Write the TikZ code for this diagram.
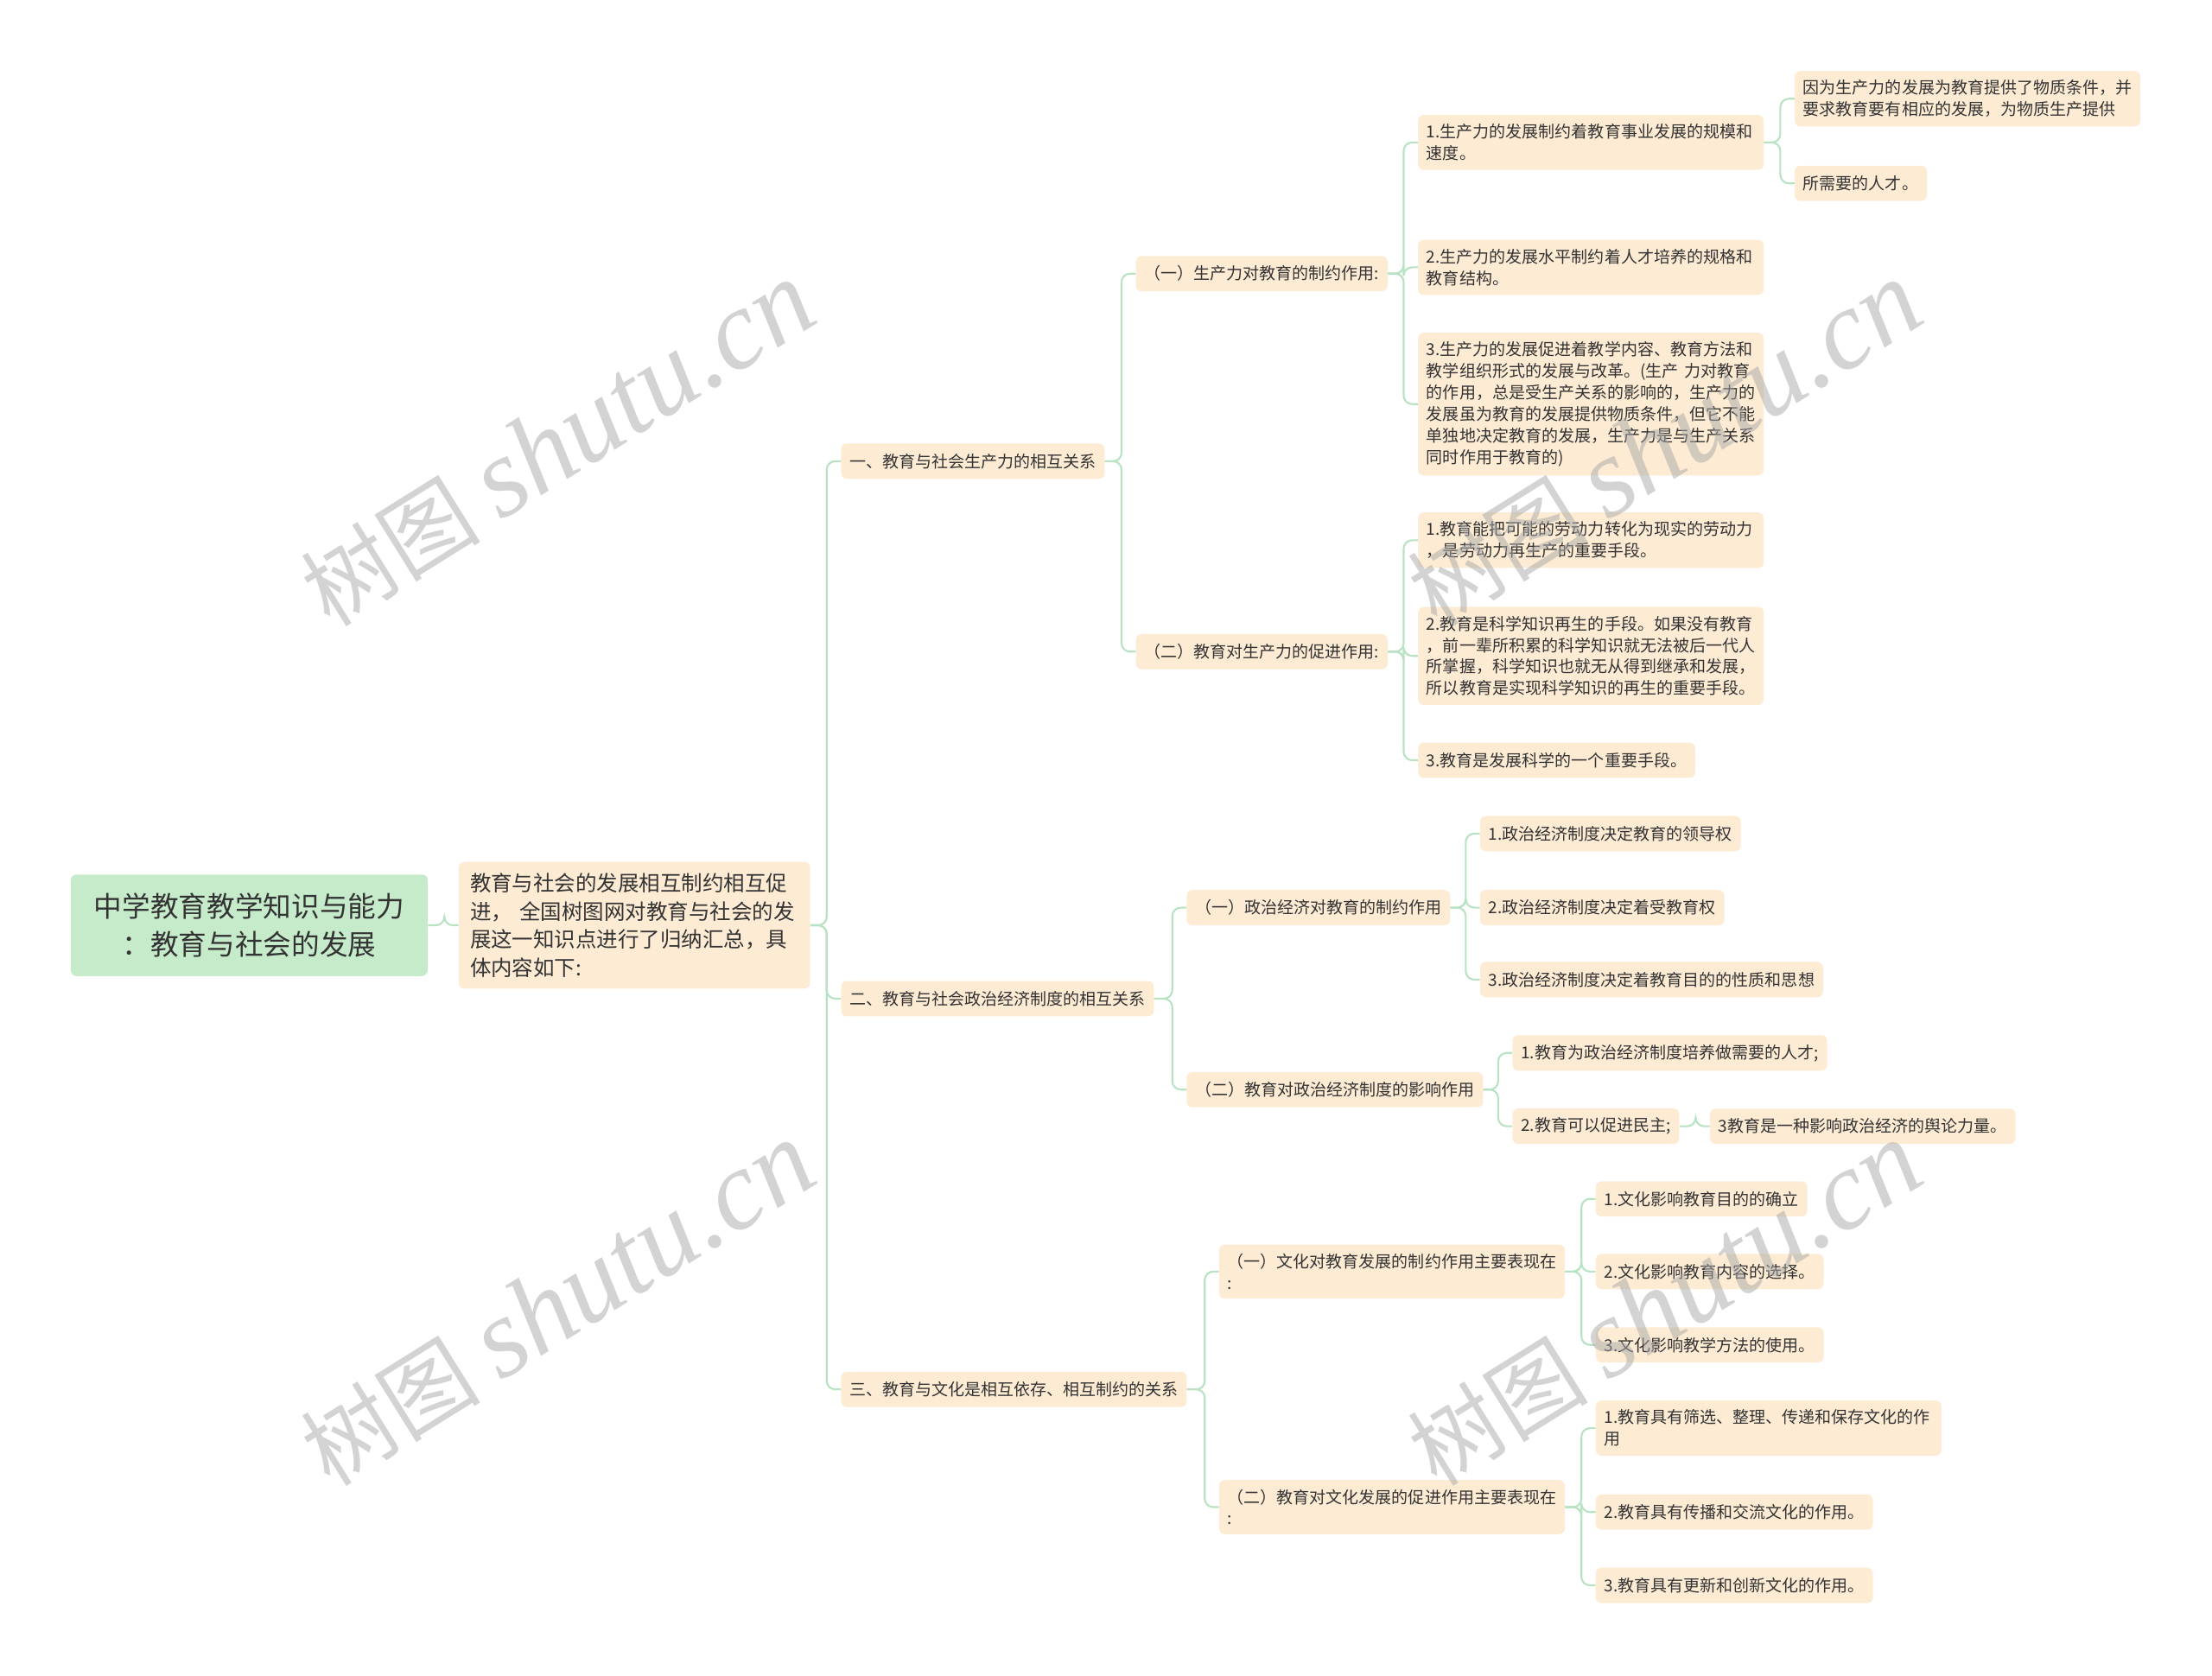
\documentclass[tikz,border=0pt]{standalone}
\usepackage{fontspec}
\setmainfont{Noto Sans CJK SC}
\newfontfamily\wmlatin{Liberation Serif}
\definecolor{nodebg}{HTML}{FDEBD4}
\definecolor{rootbg}{HTML}{C6EBCB}
\definecolor{linkc}{HTML}{B8E3C3}
\definecolor{txt}{HTML}{333333}
\definecolor{wmgray}{HTML}{A8A8A8}

\begin{document}
\begin{tikzpicture}[x=1pt, y=-1pt,
    leaf/.style = {fill=nodebg, rounded corners=4pt, anchor=west, align=left, text=txt,
                   inner xsep=6pt, inner ysep=6.5pt, minimum height=25pt,
                   font=\fontsize{11.65}{15.2}\selectfont},
    wide/.style = {leaf, text width=233pt},
    intro/.style = {leaf, text width=233pt, inner xsep=8pt, inner ysep=8pt,
                    font=\fontsize{15}{20}\selectfont},
    root/.style = {fill=rootbg, rounded corners=4pt, anchor=west, align=center, text=txt,
                   minimum width=253pt, minimum height=72pt,
                   font=\fontsize{20}{27}\selectfont},
    link/.style = {draw=linkc, line width=1.3pt, rounded corners=6pt},
    wm/.style = {text=wmgray, opacity=0.5, rotate=32, font=\fontsize{64}{70}\selectfont}]
    \useasboundingbox (0,0) rectangle (1568,1188);

    % root and intro
    \node[root] at (50, 656) (root) {中学教育教学知识与能力\\：教育与社会的发展};
    \node[intro] at (325, 656) (intro) {教育与社会的发展相互制约相互促\\进， 全国树图网对教育与社会的发\\展这一知识点进行了归纳汇总，具\\体内容如下:};

    % first level
    \node[leaf] at (596, 327) (l1a) {一、教育与社会生产力的相互关系};
    \node[leaf] at (596, 708) (l1b) {二、教育与社会政治经济制度的相互关系};
    \node[leaf] at (596, 985) (l1c) {三、教育与文化是相互依存、相互制约的关系};

    % second level
    \node[leaf] at (805, 194) (a1) {（一）生产力对教育的制约作用:};
    \node[leaf] at (805, 462) (a2) {（二）教育对生产力的促进作用:};
    \node[leaf] at (841, 643.5) (b1) {（一）政治经济对教育的制约作用};
    \node[leaf] at (841, 772.5) (b2) {（二）教育对政治经济制度的影响作用};
    \node[wide] at (864, 901.5) (c1) {（一）文化对教育发展的制约作用主要表现在\\:};
    \node[wide] at (864, 1068.5) (c2) {（二）教育对文化发展的促进作用主要表现在\\:};

    % third level
    \node[wide] at (1005, 101) (a1a) {1.生产力的发展制约着教育事业发展的规模和\\速度。};
    \node[wide] at (1005, 189.5) (a1b) {2.生产力的发展水平制约着人才培养的规格和\\教育结构。};
    \node[wide] at (1005, 286.5) (a1c) {3.生产力的发展促进着教学内容、教育方法和\\教学组织形式的发展与改革。(生产 力对教育\\的作用，总是受生产关系的影响的，生产力的\\发展虽为教育的发展提供物质条件，但它不能\\单独地决定教育的发展，生产力是与生产关系\\同时作用于教育的)};
    \node[wide] at (1272, 70) (a1x) {因为生产力的发展为教育提供了物质条件，并\\要求教育要有相应的发展，为物质生产提供};
    \node[leaf] at (1272, 130) (a1y) {所需要的人才。};

    \node[wide] at (1005, 383) (a2a) {1.教育能把可能的劳动力转化为现实的劳动力\\，是劳动力再生产的重要手段。};
    \node[wide] at (1005, 465) (a2b) {2.教育是科学知识再生的手段。如果没有教育\\，前一辈所积累的科学知识就无法被后一代人\\所掌握，科学知识也就无从得到继承和发展，\\所以教育是实现科学知识的再生的重要手段。};
    \node[leaf] at (1005, 539) (a2c) {3.教育是发展科学的一个重要手段。};

    \node[leaf] at (1049, 591) (b1a) {1.政治经济制度决定教育的领导权};
    \node[leaf] at (1049, 643.5) (b1b) {2.政治经济制度决定着受教育权};
    \node[leaf] at (1049, 694.5) (b1c) {3.政治经济制度决定着教育目的的性质和思想};
    \node[leaf] at (1072, 746.5) (b2a) {1.教育为政治经济制度培养做需要的人才;};
    \node[leaf] at (1072, 798.5) (b2b) {2.教育可以促进民主;};
    \node[leaf] at (1212, 798.5) (b2c) {3教育是一种影响政治经济的舆论力量。};

    \node[leaf] at (1131, 850) (c1a) {1.文化影响教育目的的确立};
    \node[leaf] at (1131, 901.5) (c1b) {2.文化影响教育内容的选择。};
    \node[leaf] at (1131, 953.5) (c1c) {3.文化影响教学方法的使用。};
    \node[wide] at (1131, 1012.5) (c2a) {1.教育具有筛选、整理、传递和保存文化的作\\用};
    \node[leaf] at (1131, 1072) (c2b) {2.教育具有传播和交流文化的作用。};
    \node[leaf] at (1131, 1124) (c2c) {3.教育具有更新和创新文化的作用。};

    % connectors
    \foreach \p/\c in {root/intro, intro/l1a, intro/l1b, intro/l1c,
                       l1a/a1, l1a/a2, l1b/b1, l1b/b2, l1c/c1, l1c/c2,
                       a1/a1a, a1/a1b, a1/a1c, a1a/a1x, a1a/a1y,
                       a2/a2a, a2/a2b, a2/a2c,
                       b1/b1a, b1/b1b, b1/b1c, b2/b2a, b2/b2b, b2b/b2c,
                       c1/c1a, c1/c1b, c1/c1c, c2/c2a, c2/c2b, c2/c2c}
        \draw[link] (\p.east) -- ([xshift=-10pt]\p.east -| \c.west) |- (\c.west);

    % watermarks
    \node[wm] at (395, 315) (wm1) {树图 {\wmlatin\itshape\fontsize{80}{86}\selectfont shutu.cn}};
    \node[wm] at (1180, 315) (wm2) {树图 {\wmlatin\itshape\fontsize{80}{86}\selectfont shutu.cn}};
    \node[wm] at (395, 925) (wm3) {树图 {\wmlatin\itshape\fontsize{80}{86}\selectfont shutu.cn}};
    \node[wm] at (1180, 925) (wm4) {树图 {\wmlatin\itshape\fontsize{80}{86}\selectfont shutu.cn}};
\end{tikzpicture}
\end{document}
